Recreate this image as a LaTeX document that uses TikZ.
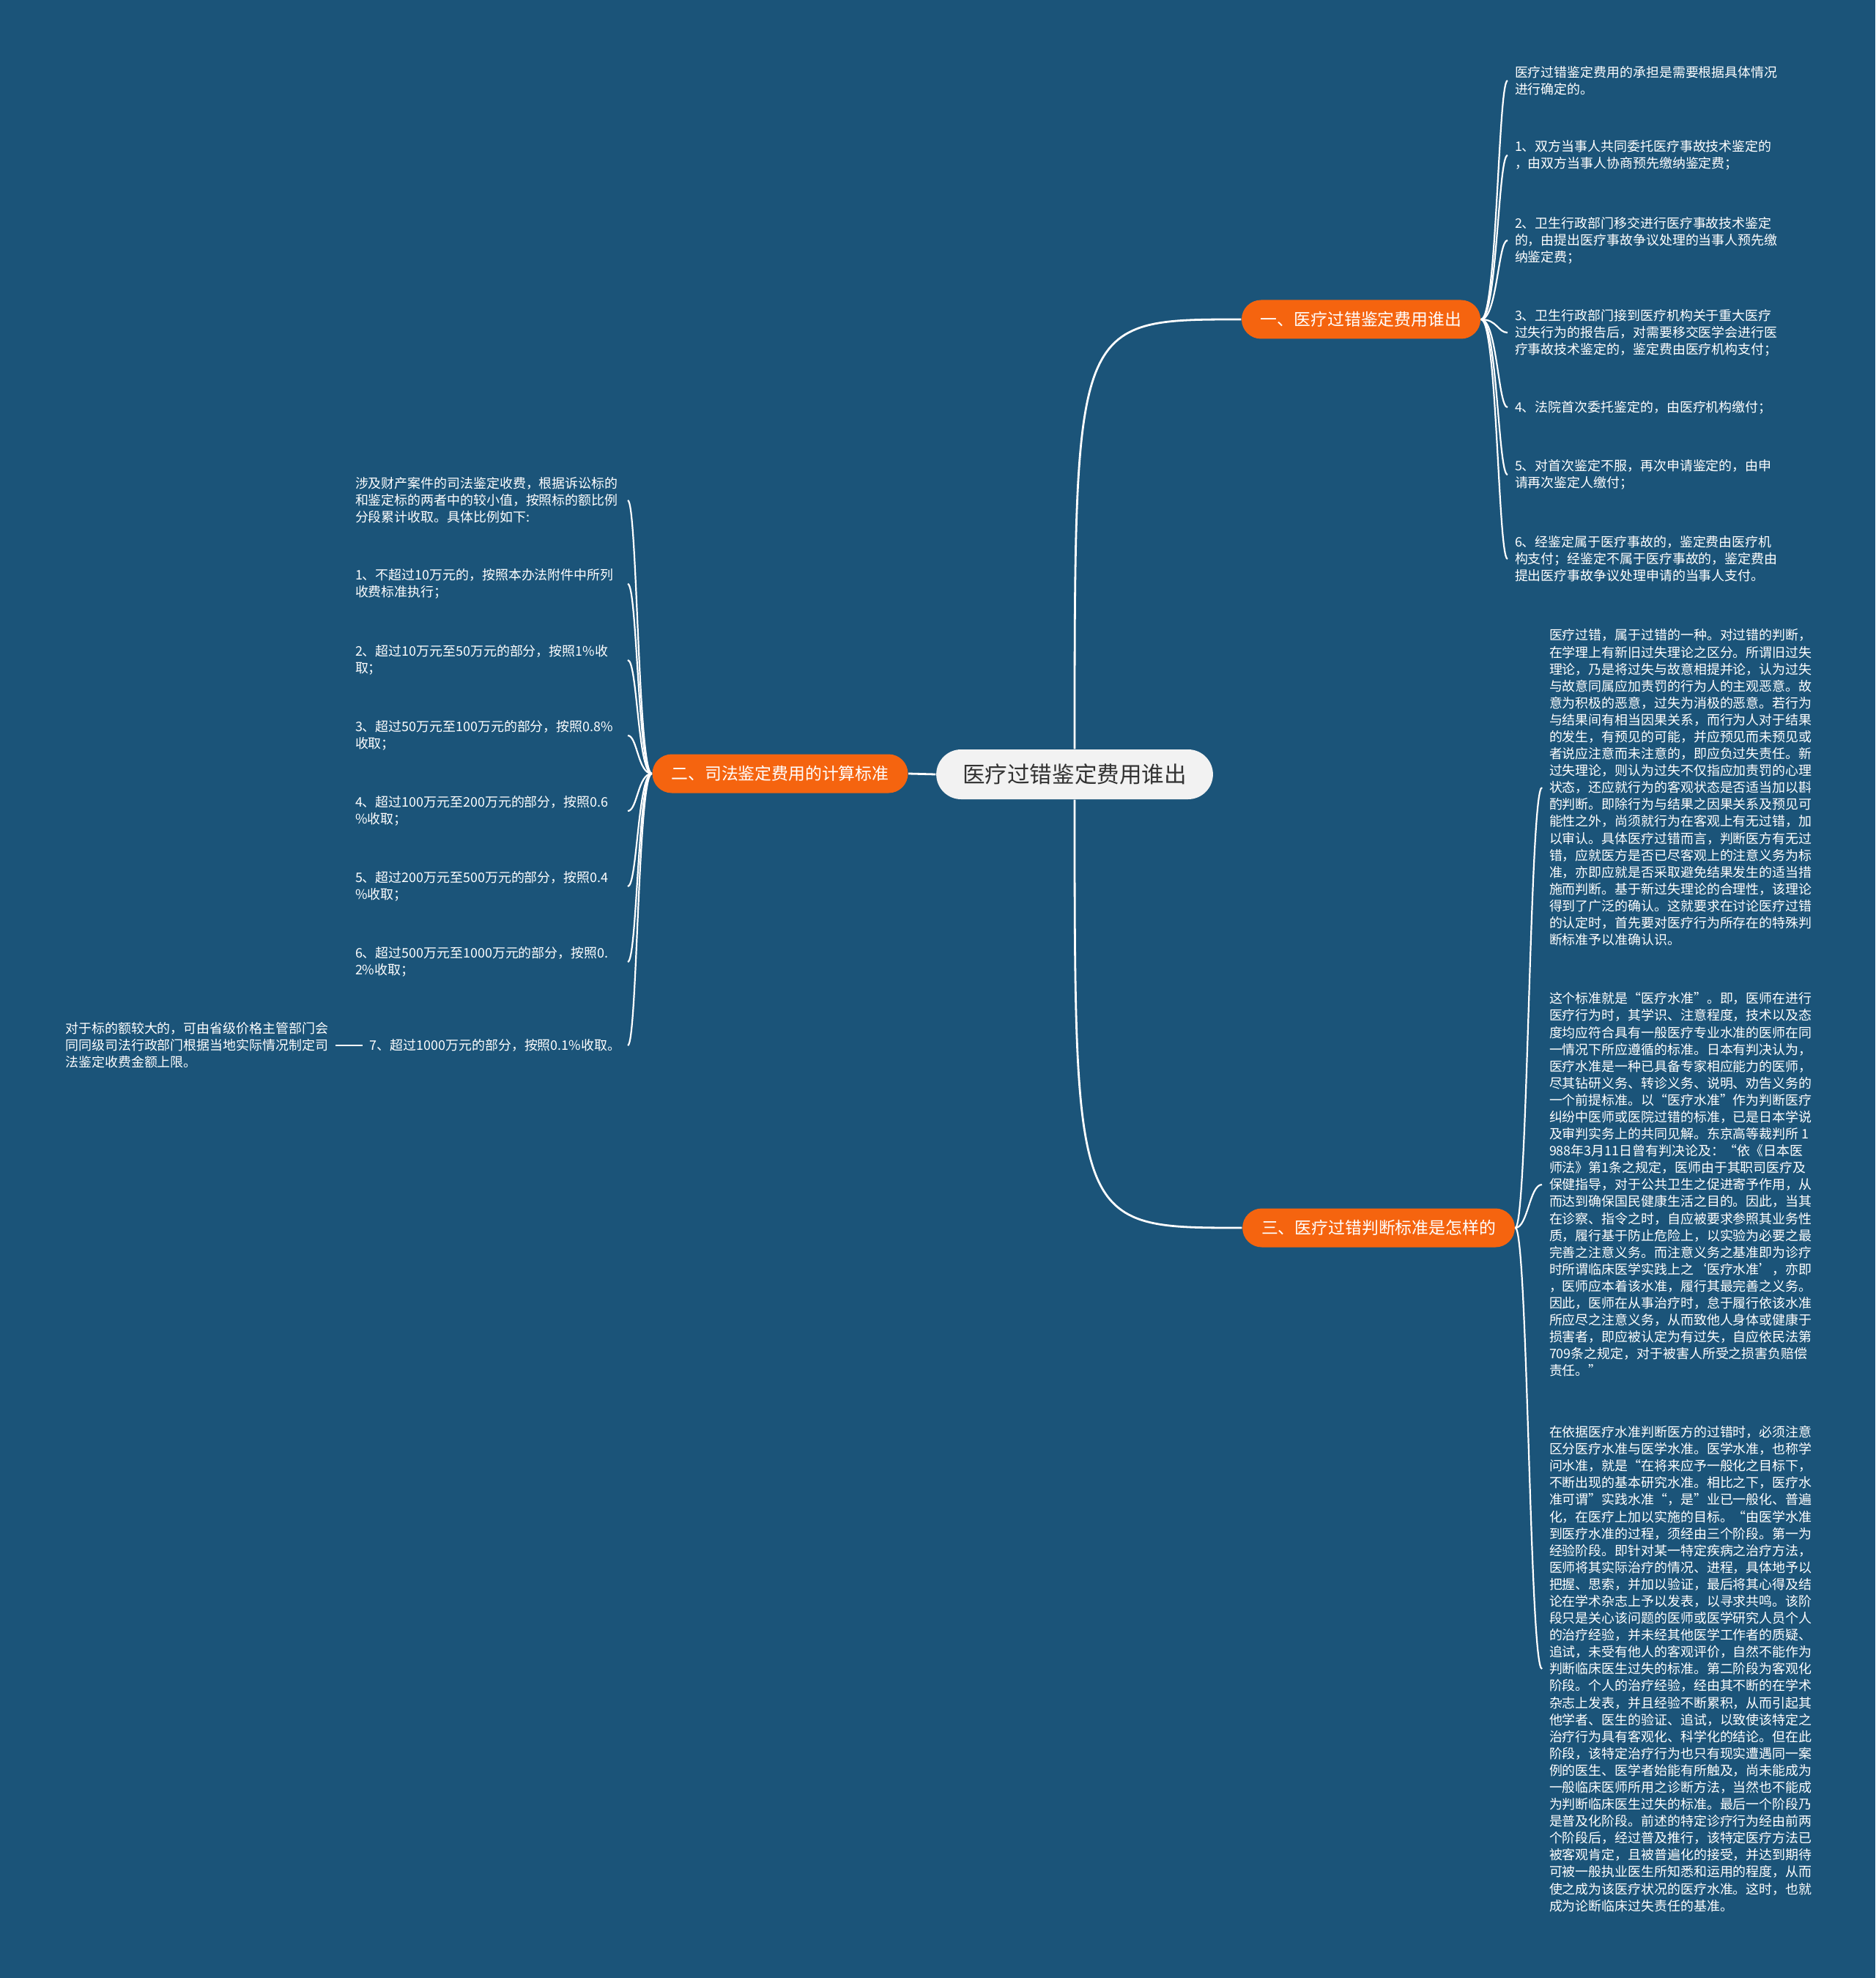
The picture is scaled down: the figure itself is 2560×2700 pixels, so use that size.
\documentclass[tikz,border=0pt]{standalone}
\usepackage{fontspec}
\newfontfamily\cjk{Noto Sans CJK SC}
\usepackage{xcolor}
\definecolor{mapblue}{HTML}{1B5479}
\definecolor{maporange}{HTML}{F5640F}
\definecolor{rootgray}{HTML}{F2F2F2}
\definecolor{roottext}{HTML}{333333}
\usetikzlibrary{
    positioning % relative placement
}

\begin{document}
\begin{tikzpicture}[
    x=0.1mm, y=-0.1mm,
    font=\cjk,
    link/.style={
        draw=white,
        line width=0.28mm
    },
    twig/.style={
        draw=white,
        line width=0.22mm
    },
    root/.style={
        fill=rootgray,
        text=roottext,
        rounded corners=3.4mm,
        minimum height=6.8mm,
        inner xsep=3.6mm,
        inner ysep=0pt,
        font=\cjk\fontsize{8.7pt}{10pt}\selectfont
    },
    branch/.style={
        fill=maporange,
        text=white,
        rounded corners=2.65mm,
        minimum height=5.3mm,
        inner xsep=2.6mm,
        inner ysep=0pt,
        font=\cjk\fontsize{6.5pt}{8pt}\selectfont
    },
    leaf/.style={
        text=white,
        align=left,
        inner sep=0pt,
        outer xsep=1mm,
        font=\cjk\fontsize{5.1pt}{6.57pt}\selectfont
    },
    rate/.style={
        leaf,
        text width=36.2mm
    }
]

% Canvas
\fill[mapblue] (0,0) rectangle (2560,2700);
\useasboundingbox (0,0) rectangle (2560,2700);

% Root
\node[root] (root) at (1467,1057) {医疗过错鉴定费用谁出};

% Branches
\node[branch] (costs) at (1858,436) {一、医疗过错鉴定费用谁出};
\node[branch] (calc) at (1065,1056) {二、司法鉴定费用的计算标准};
\node[branch] (judge) at (1882,1676) {三、医疗过错判断标准是怎样的};

% Who pays
\node[leaf, anchor=west] (r0) at (2058,110)
{医疗过错鉴定费用的承担是需要根据具体情况\\进行确定的。};
\node[leaf, anchor=west] (r1) at (2058,212)
{1、双方当事人共同委托医疗事故技术鉴定的\\，由双方当事人协商预先缴纳鉴定费；};
\node[leaf, anchor=west] (r2) at (2058,328)
{2、卫生行政部门移交进行医疗事故技术鉴定\\的，由提出医疗事故争议处理的当事人预先缴\\纳鉴定费；};
\node[leaf, anchor=west] (r3) at (2058,454)
{3、卫生行政部门接到医疗机构关于重大医疗\\过失行为的报告后，对需要移交医学会进行医\\疗事故技术鉴定的，鉴定费由医疗机构支付；};
\node[leaf, anchor=west] (r4) at (2058,556)
{4、法院首次委托鉴定的，由医疗机构缴付；};
\node[leaf, anchor=west] (r5) at (2058,648)
{5、对首次鉴定不服，再次申请鉴定的，由申\\请再次鉴定人缴付；};
\node[leaf, anchor=west] (r6) at (2058,763)
{6、经鉴定属于医疗事故的，鉴定费由医疗机\\构支付；经鉴定不属于医疗事故的，鉴定费由\\提出医疗事故争议处理申请的当事人支付。};

% Fee rates
\node[rate, anchor=west] (l0) at (475,683)
{涉及财产案件的司法鉴定收费，根据诉讼标的\\和鉴定标的两者中的较小值，按照标的额比例\\分段累计收取。具体比例如下:};
\node[rate, anchor=west] (l1) at (475,797)
{1、不超过10万元的，按照本办法附件中所列\\收费标准执行；};
\node[rate, anchor=west] (l2) at (475,901)
{2、超过10万元至50万元的部分，按照1\%收\\取；};
\node[rate, anchor=west] (l3) at (475,1004)
{3、超过50万元至100万元的部分，按照0.8\%\\收取；};
\node[rate, anchor=west] (l4) at (475,1107)
{4、超过100万元至200万元的部分，按照0.6\\\%收取；};
\node[rate, anchor=west] (l5) at (475,1210)
{5、超过200万元至500万元的部分，按照0.4\\\%收取；};
\node[rate, anchor=west] (l6) at (475,1313)
{6、超过500万元至1000万元的部分，按照0.\\2\%收取；};
\node[leaf, anchor=east] (l7) at (857,1427)
{7、超过1000万元的部分，按照0.1\%收取。};
\node[leaf, anchor=east] (cap) at (458,1427)
{对于标的额较大的，可由省级价格主管部门会\\同同级司法行政部门根据当地实际情况制定司\\法鉴定收费金额上限。};

% Judging standard
\node[leaf, anchor=west] (p1) at (2105,1075)
{医疗过错，属于过错的一种。对过错的判断，\\
在学理上有新旧过失理论之区分。所谓旧过失\\
理论，乃是将过失与故意相提并论，认为过失\\
与故意同属应加责罚的行为人的主观恶意。故\\
意为积极的恶意，过失为消极的恶意。若行为\\
与结果间有相当因果关系，而行为人对于结果\\
的发生，有预见的可能，并应预见而未预见或\\
者说应注意而未注意的，即应负过失责任。新\\
过失理论，则认为过失不仅指应加责罚的心理\\
状态，还应就行为的客观状态是否适当加以斟\\
酌判断。即除行为与结果之因果关系及预见可\\
能性之外，尚须就行为在客观上有无过错，加\\
以审认。具体医疗过错而言，判断医方有无过\\
错，应就医方是否已尽客观上的注意义务为标\\
准，亦即应就是否采取避免结果发生的适当措\\
施而判断。基于新过失理论的合理性，该理论\\
得到了广泛的确认。这就要求在讨论医疗过错\\
的认定时，首先要对医疗行为所存在的特殊判\\
断标准予以准确认识。};

\node[leaf, anchor=west] (p2) at (2105,1617)
{这个标准就是“医疗水准”。即，医师在进行\\
医疗行为时，其学识、注意程度，技术以及态\\
度均应符合具有一般医疗专业水准的医师在同\\
一情况下所应遵循的标准。日本有判决认为，\\
医疗水准是一种已具备专家相应能力的医师，\\
尽其钻研义务、转诊义务、说明、劝告义务的\\
一个前提标准。以“医疗水准”作为判断医疗\\
纠纷中医师或医院过错的标准，已是日本学说\\
及审判实务上的共同见解。东京高等裁判所 1\\
988年3月11日曾有判决论及：“依《日本医\\
师法》第1条之规定，医师由于其职司医疗及\\
保健指导，对于公共卫生之促进寄予作用，从\\
而达到确保国民健康生活之目的。因此，当其\\
在诊察、指令之时，自应被要求参照其业务性\\
质，履行基于防止危险上，以实验为必要之最\\
完善之注意义务。而注意义务之基准即为诊疗\\
时所谓临床医学实践上之‘医疗水准’，亦即\\
，医师应本着该水准，履行其最完善之义务。\\
因此，医师在从事治疗时，怠于履行依该水准\\
所应尽之注意义务，从而致他人身体或健康于\\
损害者，即应被认定为有过失，自应依民法第\\
709条之规定，对于被害人所受之损害负赔偿\\
责任。”};

\node[leaf, anchor=west] (p3) at (2105,2278)
{在依据医疗水准判断医方的过错时，必须注意\\
区分医疗水准与医学水准。医学水准，也称学\\
问水准，就是“在将来应予一般化之目标下，\\
不断出现的基本研究水准。相比之下，医疗水\\
准可谓”实践水准“，是”业已一般化、普遍\\
化，在医疗上加以实施的目标。“由医学水准\\
到医疗水准的过程，须经由三个阶段。第一为\\
经验阶段。即针对某一特定疾病之治疗方法，\\
医师将其实际治疗的情况、进程，具体地予以\\
把握、思索，并加以验证，最后将其心得及结\\
论在学术杂志上予以发表，以寻求共鸣。该阶\\
段只是关心该问题的医师或医学研究人员个人\\
的治疗经验，并未经其他医学工作者的质疑、\\
追试，未受有他人的客观评价，自然不能作为\\
判断临床医生过失的标准。第二阶段为客观化\\
阶段。个人的治疗经验，经由其不断的在学术\\
杂志上发表，并且经验不断累积，从而引起其\\
他学者、医生的验证、追试，以致使该特定之\\
治疗行为具有客观化、科学化的结论。但在此\\
阶段，该特定治疗行为也只有现实遭遇同一案\\
例的医生、医学者始能有所触及，尚未能成为\\
一般临床医师所用之诊断方法，当然也不能成\\
为判断临床医生过失的标准。最后一个阶段乃\\
是普及化阶段。前述的特定诊疗行为经由前两\\
个阶段后，经过普及推行，该特定医疗方法已\\
被客观肯定，且被普遍化的接受，并达到期待\\
可被一般执业医生所知悉和运用的程度，从而\\
使之成为该医疗状况的医疗水准。这时，也就\\
成为论断临床过失责任的基准。};

% Root to branches
\draw[link] (root.north) .. controls (1467,436) and (1467,436) .. (costs.west);
\draw[link] (root.west) -- (calc.east);
\draw[link] (root.south) .. controls (1467,1676) and (1467,1676) .. (judge.west);

% Who pays
\draw[twig] (costs.east) .. controls +(22,0) and +(-13,0) .. (r0.west);
\draw[twig] (costs.east) .. controls +(22,0) and +(-13,0) .. (r1.west);
\draw[twig] (costs.east) .. controls +(22,0) and +(-13,0) .. (r2.west);
\draw[twig] (costs.east) .. controls +(22,0) and +(-13,0) .. (r3.west);
\draw[twig] (costs.east) .. controls +(22,0) and +(-13,0) .. (r4.west);
\draw[twig] (costs.east) .. controls +(22,0) and +(-13,0) .. (r5.west);
\draw[twig] (costs.east) .. controls +(22,0) and +(-13,0) .. (r6.west);

% Fee rates
\draw[twig] (calc.west) .. controls +(-19,0) and +(13,0) .. (l0.east);
\draw[twig] (calc.west) .. controls +(-19,0) and +(13,0) .. (l1.east);
\draw[twig] (calc.west) .. controls +(-19,0) and +(13,0) .. (l2.east);
\draw[twig] (calc.west) .. controls +(-19,0) and +(13,0) .. (l3.east);
\draw[twig] (calc.west) .. controls +(-19,0) and +(13,0) .. (l4.east);
\draw[twig] (calc.west) .. controls +(-19,0) and +(13,0) .. (l5.east);
\draw[twig] (calc.west) .. controls +(-19,0) and +(13,0) .. (l6.east);
\draw[twig] (calc.west) .. controls +(-19,0) and +(13,0) .. (l7.east);
\draw[twig] (l7.west) -- (cap.east);

% Judging standard
\draw[twig] (judge.east) .. controls +(17,0) and +(-17,0) .. (p1.west);
\draw[twig] (judge.east) .. controls +(17,0) and +(-17,0) .. (p2.west);
\draw[twig] (judge.east) .. controls +(17,0) and +(-17,0) .. (p3.west);

\end{tikzpicture}
\end{document}
